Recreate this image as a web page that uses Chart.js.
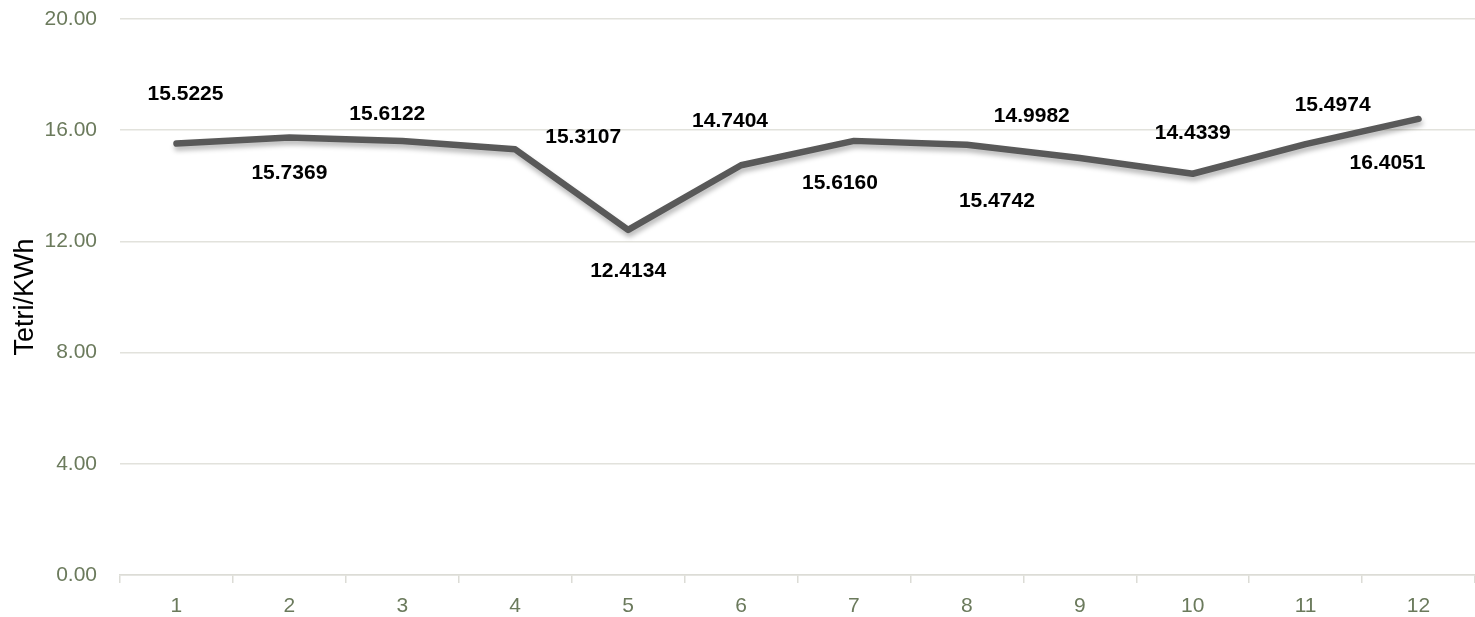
<!DOCTYPE html>
<html>
<head>
<meta charset="utf-8">
<title>Tetri/KWh</title>
<script src="https://cdn.jsdelivr.net/npm/chart.js"></script>
<style>
  html, body { margin: 0; padding: 0; background: #fff; }
  #wrap { width: 1475px; height: 617px; }
</style>
</head>
<body>
<div id="wrap"><canvas id="chart" width="1475" height="617"></canvas></div>
<script>
// 월별 값 (Tetri/KWh)
const months = ['1', '2', '3', '4', '5', '6', '7', '8', '9', '10', '11', '12'];
const tariff = [15.5225, 15.7369, 15.6122, 15.3107, 12.4134, 14.7404, 15.6160, 15.4742, 14.9982, 14.4339, 15.4974, 16.4051];
const yTicks = [0, 4, 8, 12, 16, 20];

// 데이터 라벨 위치 (포인트 기준 픽셀 오프셋)
const labelOffsets = [
  [9, -49], [0, 36], [-15, -27], [68, -12], [0, 41], [-11, -44],
  [-14, 42], [30, 56], [-48, -42], [0, -41], [27, -39], [-31, 44]
];

const FONT = "'Liberation Sans', Arial, sans-serif";
const TICK_COLOR = '#6b7a5c';

// 선 그림자
const shadowPlugin = {
  id: 'lineShadow',
  beforeDatasetDraw(chart) {
    const ctx = chart.ctx;
    ctx.save();
    ctx.shadowColor = 'rgba(0, 0, 0, 0.28)';
    ctx.shadowBlur = 5;
    ctx.shadowOffsetX = 1;
    ctx.shadowOffsetY = 4;
  },
  afterDatasetDraw(chart) {
    chart.ctx.restore();
  }
};

// 값 라벨 그리기
const valueLabels = {
  id: 'valueLabels',
  afterDatasetsDraw(chart) {
    const ctx = chart.ctx;
    const meta = chart.getDatasetMeta(0);
    ctx.save();
    ctx.font = 'bold 21px ' + FONT;
    ctx.fillStyle = '#000';
    ctx.textAlign = 'center';
    ctx.textBaseline = 'middle';
    meta.data.forEach((pt, i) => {
      const off = labelOffsets[i] || [0, -30];
      ctx.fillText(tariff[i].toFixed(4), pt.x + off[0], pt.y + off[1]);
    });
    ctx.restore();
  }
};

new Chart(document.getElementById('chart'), {
  type: 'line',
  data: {
    labels: months,
    datasets: [{
      data: tariff,
      borderColor: '#595959',
      borderWidth: 6.5,
      borderCapStyle: 'round',
      borderJoinStyle: 'round',
      pointRadius: 0,
      pointHoverRadius: 0,
      fill: false,
      tension: 0
    }]
  },
  options: {
    responsive: false,
    animation: false,
    layout: {
      padding: { top: 19, right: 0, bottom: 0, left: 0 }
    },
    scales: {
      x: {
        offset: true,
        afterFit(scale) {
          scale.height = 42;
        },
        grid: {
          offset: true,
          drawOnChartArea: false,
          drawTicks: true,
          tickLength: 8,
          color: '#dcdcd6',
          lineWidth: 1.5
        },
        border: { display: true, color: '#dcdcd6', width: 1.5 },
        ticks: {
          color: TICK_COLOR,
          font: { family: FONT, size: 21 },
          padding: 11,
          maxRotation: 0
        }
      },
      y: {
        min: 0,
        max: 20,
        afterBuildTicks(scale) {
          scale.ticks = yTicks.map(v => ({ value: v }));
        },
        afterFit(scale) {
          scale.width = 120;
          // 눈금 라벨 여백이 차트 영역을 밀어내지 않게
          scale.paddingTop = 0;
          scale.paddingBottom = 0;
        },
        grid: {
          drawTicks: false,
          color: '#e2e2dc',
          lineWidth: 1.5
        },
        border: { display: false },
        ticks: {
          color: TICK_COLOR,
          font: { family: FONT, size: 21 },
          padding: 23,
          callback: function(value) {
            return Number(value).toFixed(2);
          }
        },
        title: {
          display: true,
          text: 'Tetri/KWh',
          color: '#000',
          font: { family: FONT, size: 27 },
          padding: { top: 9, bottom: 0 }
        }
      }
    },
    plugins: {
      legend: { display: false },
      tooltip: { enabled: false }
    }
  },
  plugins: [shadowPlugin, valueLabels]
});
</script>
</body>
</html>
